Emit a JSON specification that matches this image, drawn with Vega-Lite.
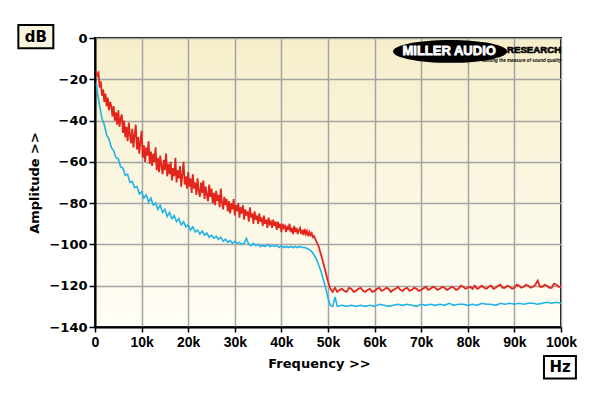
{
  "$schema": "https://vega.github.io/schema/vega-lite/v6.json",
  "width": 466,
  "height": 289,
  "autosize": {"type": "none"},
  "padding": {"left": 95, "top": 38, "right": 39, "bottom": 69},
  "background": "#ffffff",
  "config": {
    "view": {
      "stroke": "#000000",
      "strokeWidth": 2,
      "fill": {"gradient": "linear", "x1": 0, "y1": 0, "x2": 0, "y2": 1,
        "stops": [{"offset": 0, "color": "#f6eecb"}, {"offset": 1, "color": "#fffef6"}]}
    },
    "axis": {
      "gridColor": "#a4a4a4",
      "gridWidth": 1.5,
      "domainColor": "#000000",
      "domainWidth": 2,
      "tickColor": "#000000",
      "tickWidth": 1.5,
      "labelColor": "#000000",
      "titleColor": "#000000",
      "labelFontWeight": "bold",
      "titleFont": "DejaVu Sans",
      "titleFontSize": 13,
      "titleFontWeight": "bold"
    },
    "axisX": {
      "labelFont": "Liberation Sans",
      "labelFontSize": 14,
      "tickSize": 5,
      "labelPadding": 3,
      "labelFlush": false,
      "titlePadding": 8,
      "titleX": 224
    },
    "axisY": {
      "labelFont": "DejaVu Sans",
      "labelFontSize": 13,
      "tickSize": 6,
      "labelPadding": 2,
      "titlePadding": 7
    }
  },
  "datasets": {
    "red": [
      {"f": 250, "v": -16}, {"f": 500, "v": -18}, {"f": 750, "v": -17}, {"f": 1000, "v": -24},
      {"f": 1250, "v": -21}, {"f": 1500, "v": -28}, {"f": 1750, "v": -25}, {"f": 2000, "v": -31},
      {"f": 2250, "v": -27}, {"f": 2500, "v": -33}, {"f": 2750, "v": -29}, {"f": 3000, "v": -35},
      {"f": 3250, "v": -31}, {"f": 3500, "v": -33}, {"f": 3750, "v": -38}, {"f": 4000, "v": -33},
      {"f": 4250, "v": -40}, {"f": 4500, "v": -36}, {"f": 4750, "v": -42}, {"f": 5000, "v": -35},
      {"f": 5250, "v": -43}, {"f": 5500, "v": -39}, {"f": 5750, "v": -37}, {"f": 6000, "v": -46},
      {"f": 6250, "v": -40}, {"f": 6500, "v": -48}, {"f": 6750, "v": -43}, {"f": 7000, "v": -50},
      {"f": 7250, "v": -41}, {"f": 7500, "v": -47}, {"f": 7750, "v": -51}, {"f": 8000, "v": -44},
      {"f": 8250, "v": -53}, {"f": 8500, "v": -47}, {"f": 8750, "v": -42}, {"f": 9000, "v": -54},
      {"f": 9250, "v": -48}, {"f": 9500, "v": -56}, {"f": 9750, "v": -50}, {"f": 10000, "v": -45},
      {"f": 10250, "v": -58}, {"f": 10500, "v": -52}, {"f": 10750, "v": -60}, {"f": 11000, "v": -53},
      {"f": 11250, "v": -57}, {"f": 11500, "v": -50}, {"f": 11750, "v": -61}, {"f": 12000, "v": -55},
      {"f": 12250, "v": -62}, {"f": 12500, "v": -56}, {"f": 12750, "v": -60}, {"f": 13000, "v": -53},
      {"f": 13250, "v": -64}, {"f": 13500, "v": -58}, {"f": 13750, "v": -65}, {"f": 14000, "v": -57},
      {"f": 14250, "v": -62}, {"f": 14500, "v": -66}, {"f": 14750, "v": -59}, {"f": 15000, "v": -64},
      {"f": 15250, "v": -56}, {"f": 15500, "v": -67}, {"f": 15750, "v": -61}, {"f": 16000, "v": -66},
      {"f": 16250, "v": -60}, {"f": 16500, "v": -69}, {"f": 16750, "v": -63}, {"f": 17000, "v": -67},
      {"f": 17250, "v": -58}, {"f": 17500, "v": -70}, {"f": 17750, "v": -64}, {"f": 18000, "v": -68},
      {"f": 18250, "v": -62}, {"f": 18500, "v": -72}, {"f": 18750, "v": -66}, {"f": 19000, "v": -60},
      {"f": 19250, "v": -71}, {"f": 19500, "v": -67}, {"f": 19750, "v": -73}, {"f": 20000, "v": -65},
      {"f": 20250, "v": -72}, {"f": 20500, "v": -68}, {"f": 20750, "v": -75}, {"f": 21000, "v": -66},
      {"f": 21250, "v": -73}, {"f": 21500, "v": -70}, {"f": 21750, "v": -76}, {"f": 22000, "v": -68},
      {"f": 22250, "v": -74}, {"f": 22500, "v": -77}, {"f": 22750, "v": -70}, {"f": 23000, "v": -75},
      {"f": 23250, "v": -69}, {"f": 23500, "v": -78}, {"f": 23750, "v": -72}, {"f": 24000, "v": -76},
      {"f": 24250, "v": -79}, {"f": 24500, "v": -71}, {"f": 24750, "v": -77}, {"f": 25000, "v": -73},
      {"f": 25250, "v": -80}, {"f": 25500, "v": -75}, {"f": 25750, "v": -81}, {"f": 26000, "v": -74},
      {"f": 26250, "v": -79}, {"f": 26500, "v": -76}, {"f": 26750, "v": -82}, {"f": 27000, "v": -73},
      {"f": 27250, "v": -80}, {"f": 27500, "v": -83}, {"f": 27750, "v": -77}, {"f": 28000, "v": -81},
      {"f": 28250, "v": -78}, {"f": 28500, "v": -84}, {"f": 28750, "v": -79}, {"f": 29000, "v": -85},
      {"f": 29250, "v": -80}, {"f": 29500, "v": -83}, {"f": 29750, "v": -78}, {"f": 30000, "v": -86},
      {"f": 30250, "v": -81}, {"f": 30500, "v": -84}, {"f": 30750, "v": -80}, {"f": 31000, "v": -87},
      {"f": 31250, "v": -82}, {"f": 31500, "v": -85}, {"f": 31750, "v": -81}, {"f": 32000, "v": -88},
      {"f": 32250, "v": -83}, {"f": 32500, "v": -86}, {"f": 32750, "v": -84}, {"f": 33000, "v": -89},
      {"f": 33250, "v": -82}, {"f": 33500, "v": -87}, {"f": 33750, "v": -85}, {"f": 34000, "v": -90},
      {"f": 34250, "v": -84}, {"f": 34500, "v": -88}, {"f": 34750, "v": -86}, {"f": 35000, "v": -90},
      {"f": 35250, "v": -85}, {"f": 35500, "v": -89}, {"f": 35750, "v": -87}, {"f": 36000, "v": -91},
      {"f": 36250, "v": -86}, {"f": 36500, "v": -90}, {"f": 36750, "v": -88}, {"f": 37000, "v": -92},
      {"f": 37250, "v": -87}, {"f": 37500, "v": -90}, {"f": 37750, "v": -89}, {"f": 38000, "v": -92},
      {"f": 38250, "v": -88}, {"f": 38500, "v": -91}, {"f": 38750, "v": -89}, {"f": 39000, "v": -93},
      {"f": 39250, "v": -89}, {"f": 39500, "v": -92}, {"f": 39750, "v": -90}, {"f": 40000, "v": -94},
      {"f": 40250, "v": -90}, {"f": 40500, "v": -92}, {"f": 40750, "v": -91}, {"f": 41000, "v": -94},
      {"f": 41250, "v": -91}, {"f": 41500, "v": -93}, {"f": 41750, "v": -90}, {"f": 42000, "v": -94},
      {"f": 42250, "v": -92}, {"f": 42500, "v": -95}, {"f": 42750, "v": -91}, {"f": 43000, "v": -94},
      {"f": 43250, "v": -92}, {"f": 43500, "v": -95}, {"f": 43750, "v": -93}, {"f": 44000, "v": -92},
      {"f": 44250, "v": -95}, {"f": 44500, "v": -93}, {"f": 44750, "v": -95.5}, {"f": 45000, "v": -92.5},
      {"f": 45250, "v": -95}, {"f": 45500, "v": -93.5}, {"f": 45750, "v": -96}, {"f": 46000, "v": -94},
      {"f": 46250, "v": -95.5}, {"f": 46500, "v": -94.5}, {"f": 46750, "v": -96.5}, {"f": 47000, "v": -96},
      {"f": 47500, "v": -98.5}, {"f": 48000, "v": -101}, {"f": 48500, "v": -105}, {"f": 49000, "v": -109},
      {"f": 49500, "v": -113.5}, {"f": 50000, "v": -118}, {"f": 50500, "v": -121.5}, {"f": 51000, "v": -123},
      {"f": 51500, "v": -121}, {"f": 52000, "v": -123}, {"f": 52500, "v": -122}, {"f": 53000, "v": -121.5},
      {"f": 53500, "v": -122.5}, {"f": 54000, "v": -123}, {"f": 54500, "v": -121}, {"f": 55000, "v": -121.5},
      {"f": 55500, "v": -123}, {"f": 56000, "v": -122.5}, {"f": 56500, "v": -121.5}, {"f": 57000, "v": -121},
      {"f": 57500, "v": -122.5}, {"f": 58000, "v": -123}, {"f": 58500, "v": -122}, {"f": 59000, "v": -121.5},
      {"f": 59500, "v": -123}, {"f": 60000, "v": -122.5}, {"f": 60500, "v": -121.5}, {"f": 61000, "v": -121},
      {"f": 61500, "v": -122.5}, {"f": 62000, "v": -122}, {"f": 62500, "v": -121}, {"f": 63000, "v": -121.5},
      {"f": 63500, "v": -123}, {"f": 64000, "v": -122}, {"f": 64500, "v": -121.5}, {"f": 65000, "v": -120.5},
      {"f": 65500, "v": -122}, {"f": 66000, "v": -122.5}, {"f": 66500, "v": -121.5}, {"f": 67000, "v": -121},
      {"f": 67500, "v": -122.5}, {"f": 68000, "v": -122}, {"f": 68500, "v": -121}, {"f": 69000, "v": -121.5},
      {"f": 69500, "v": -122.5}, {"f": 70000, "v": -122}, {"f": 71000, "v": -120.5}, {"f": 71500, "v": -122},
      {"f": 72000, "v": -121.5}, {"f": 72500, "v": -120.5}, {"f": 73000, "v": -121}, {"f": 73500, "v": -122},
      {"f": 74000, "v": -121.5}, {"f": 74500, "v": -120.5}, {"f": 75000, "v": -121}, {"f": 75500, "v": -122},
      {"f": 76000, "v": -121.5}, {"f": 76500, "v": -120.5}, {"f": 77000, "v": -121}, {"f": 77500, "v": -122},
      {"f": 78000, "v": -121.5}, {"f": 78500, "v": -120}, {"f": 79000, "v": -120.5}, {"f": 79500, "v": -121.5},
      {"f": 80000, "v": -121}, {"f": 80500, "v": -120.5}, {"f": 81000, "v": -121.5}, {"f": 81500, "v": -120},
      {"f": 82000, "v": -121.5}, {"f": 82500, "v": -121}, {"f": 83000, "v": -120}, {"f": 83500, "v": -121},
      {"f": 84000, "v": -121.5}, {"f": 84500, "v": -120.5}, {"f": 85000, "v": -120}, {"f": 85500, "v": -121.5},
      {"f": 86000, "v": -121}, {"f": 86500, "v": -120}, {"f": 87000, "v": -119.5}, {"f": 87500, "v": -121},
      {"f": 88000, "v": -121}, {"f": 88500, "v": -120}, {"f": 89000, "v": -120.5}, {"f": 89500, "v": -121.5},
      {"f": 90000, "v": -121}, {"f": 90500, "v": -119.5}, {"f": 91000, "v": -120}, {"f": 91500, "v": -121},
      {"f": 92000, "v": -120.5}, {"f": 92500, "v": -119.5}, {"f": 93000, "v": -120}, {"f": 93500, "v": -121},
      {"f": 94000, "v": -120.5}, {"f": 94500, "v": -119.5}, {"f": 95000, "v": -117.5}, {"f": 95500, "v": -120.5},
      {"f": 96000, "v": -120.5}, {"f": 96500, "v": -119.5}, {"f": 97000, "v": -120}, {"f": 97500, "v": -121},
      {"f": 98000, "v": -121}, {"f": 98500, "v": -119}, {"f": 99000, "v": -119.5}, {"f": 99500, "v": -120.5},
      {"f": 100000, "v": -120.5}
    ],
    "blue": [
      {"f": 300, "v": -22}, {"f": 500, "v": -26}, {"f": 1000, "v": -33}, {"f": 1500, "v": -39},
      {"f": 2000, "v": -42}, {"f": 2500, "v": -47}, {"f": 3000, "v": -49}, {"f": 3500, "v": -53},
      {"f": 4000, "v": -54.5}, {"f": 4500, "v": -58}, {"f": 5000, "v": -58.5}, {"f": 5500, "v": -62.5},
      {"f": 6000, "v": -63}, {"f": 6500, "v": -66.5}, {"f": 7000, "v": -66}, {"f": 7500, "v": -70},
      {"f": 8000, "v": -69.5}, {"f": 8500, "v": -72.5}, {"f": 9000, "v": -72}, {"f": 9500, "v": -75.5},
      {"f": 10000, "v": -74.5}, {"f": 10500, "v": -77.5}, {"f": 11000, "v": -76}, {"f": 11500, "v": -79.5},
      {"f": 12000, "v": -77.5}, {"f": 12500, "v": -81}, {"f": 13000, "v": -80}, {"f": 13500, "v": -83},
      {"f": 14000, "v": -81}, {"f": 14500, "v": -84.5}, {"f": 15000, "v": -83}, {"f": 15500, "v": -86.5},
      {"f": 16000, "v": -84.5}, {"f": 16500, "v": -87.5}, {"f": 17000, "v": -86}, {"f": 17500, "v": -89},
      {"f": 18000, "v": -87.5}, {"f": 18500, "v": -90.5}, {"f": 19000, "v": -89}, {"f": 19500, "v": -91.5},
      {"f": 20000, "v": -90.5}, {"f": 20500, "v": -93}, {"f": 21000, "v": -91.5}, {"f": 21500, "v": -94},
      {"f": 22000, "v": -93}, {"f": 22500, "v": -95}, {"f": 23000, "v": -93.5}, {"f": 23500, "v": -95.5},
      {"f": 24000, "v": -94.5}, {"f": 24500, "v": -96.5}, {"f": 25000, "v": -95.5}, {"f": 25500, "v": -97},
      {"f": 26000, "v": -96}, {"f": 26500, "v": -97.5}, {"f": 27000, "v": -96.5}, {"f": 27500, "v": -98.5},
      {"f": 28000, "v": -97.5}, {"f": 28500, "v": -99}, {"f": 29000, "v": -98}, {"f": 29500, "v": -99.5},
      {"f": 30000, "v": -98.5}, {"f": 30500, "v": -99.5}, {"f": 31000, "v": -99}, {"f": 31500, "v": -100},
      {"f": 32000, "v": -99.5}, {"f": 32500, "v": -97}, {"f": 33000, "v": -100}, {"f": 33500, "v": -100.5},
      {"f": 34000, "v": -99.5}, {"f": 34500, "v": -100.5}, {"f": 35000, "v": -100}, {"f": 35500, "v": -101},
      {"f": 36000, "v": -100.5}, {"f": 36500, "v": -101}, {"f": 37000, "v": -100}, {"f": 37500, "v": -101},
      {"f": 38000, "v": -100.5}, {"f": 38500, "v": -101}, {"f": 39000, "v": -100.5}, {"f": 39500, "v": -101.5},
      {"f": 40000, "v": -100.5}, {"f": 40500, "v": -101.5}, {"f": 41000, "v": -101}, {"f": 41500, "v": -101.5},
      {"f": 42000, "v": -101}, {"f": 42500, "v": -101.5}, {"f": 43000, "v": -101}, {"f": 43500, "v": -101.5},
      {"f": 44000, "v": -101}, {"f": 44500, "v": -101.5}, {"f": 45000, "v": -101.5}, {"f": 45500, "v": -102},
      {"f": 46000, "v": -102.5}, {"f": 46500, "v": -103.5}, {"f": 47000, "v": -105}, {"f": 47500, "v": -107},
      {"f": 48000, "v": -110}, {"f": 48500, "v": -113}, {"f": 49000, "v": -117}, {"f": 49500, "v": -121},
      {"f": 50000, "v": -126}, {"f": 50500, "v": -129.5}, {"f": 51000, "v": -130}, {"f": 51500, "v": -125.5},
      {"f": 52000, "v": -130}, {"f": 53000, "v": -129.5}, {"f": 54000, "v": -130}, {"f": 55000, "v": -129.5},
      {"f": 56000, "v": -130}, {"f": 57000, "v": -129.5}, {"f": 58000, "v": -130}, {"f": 59000, "v": -129.5},
      {"f": 60000, "v": -130}, {"f": 61000, "v": -129}, {"f": 62000, "v": -129.5}, {"f": 63000, "v": -130},
      {"f": 64000, "v": -129.5}, {"f": 65000, "v": -129}, {"f": 66000, "v": -129.5}, {"f": 67000, "v": -129},
      {"f": 68000, "v": -129.5}, {"f": 69000, "v": -130}, {"f": 70000, "v": -129}, {"f": 71000, "v": -129.5},
      {"f": 72000, "v": -129}, {"f": 73000, "v": -129.5}, {"f": 74000, "v": -129}, {"f": 75000, "v": -129.5},
      {"f": 76000, "v": -128.5}, {"f": 77000, "v": -129.5}, {"f": 78000, "v": -129}, {"f": 79000, "v": -129},
      {"f": 80000, "v": -129.5}, {"f": 81000, "v": -129}, {"f": 82000, "v": -129.5}, {"f": 83000, "v": -128.5},
      {"f": 84000, "v": -129}, {"f": 85000, "v": -129}, {"f": 86000, "v": -129.5}, {"f": 87000, "v": -128.5},
      {"f": 88000, "v": -129}, {"f": 89000, "v": -128.5}, {"f": 90000, "v": -129}, {"f": 91000, "v": -128.5},
      {"f": 92000, "v": -129}, {"f": 93000, "v": -128.5}, {"f": 94000, "v": -128.5}, {"f": 95000, "v": -129},
      {"f": 96000, "v": -128.5}, {"f": 97000, "v": -128}, {"f": 98000, "v": -128.5}, {"f": 99000, "v": -128},
      {"f": 100000, "v": -128.5}
    ]
  },
  "layer": [
    {
      "data": {"name": "blue"},
      "mark": {"type": "line", "color": "#1fb3e6", "strokeWidth": 1.6},
      "encoding": {
        "x": {"field": "f", "type": "quantitative",
          "scale": {"domain": [0, 100000], "nice": false, "zero": false},
          "axis": {"title": "Frequency >>", "values": [0, 10000, 20000, 30000, 40000, 50000, 60000, 70000, 80000, 90000, 100000],
            "labelExpr": "datum.value == 0 ? '0' : (datum.value / 1000) + 'k'"}},
        "y": {"field": "v", "type": "quantitative",
          "scale": {"domain": [-140, 0], "nice": false, "zero": false},
          "axis": {"title": "Amplitude >>", "values": [-140, -120, -100, -80, -60, -40, -20, 0]}}
      }
    },
    {
      "data": {"name": "red"},
      "mark": {"type": "line", "color": "#e3261c", "strokeWidth": 1.8},
      "encoding": {
        "x": {"field": "f", "type": "quantitative"},
        "y": {"field": "v", "type": "quantitative"}
      }
    },
    {
      "data": {"values": [{}]},
      "mark": {"type": "rect", "fill": "#f9f5df", "stroke": "#000000", "strokeWidth": 2},
      "encoding": {
        "x": {"datum": -16450}, "x2": {"datum": -8940},
        "y": {"datum": 6.3}, "y2": {"datum": -5.0}
      }
    },
    {
      "data": {"values": [{}]},
      "mark": {"type": "text", "text": "dB", "font": "DejaVu Sans", "fontSize": 15, "fontWeight": "bold", "color": "#000000", "align": "center", "baseline": "middle"},
      "encoding": {"x": {"datum": -12700}, "y": {"datum": 0.6}}
    },
    {
      "data": {"values": [{}]},
      "mark": {"type": "rect", "fill": "#ffffff", "stroke": "#000000", "strokeWidth": 2},
      "encoding": {
        "x": {"datum": 96350}, "x2": {"datum": 103200},
        "y": {"datum": -154.1}, "y2": {"datum": -164.9}
      }
    },
    {
      "data": {"values": [{}]},
      "mark": {"type": "text", "text": "Hz", "font": "DejaVu Sans", "fontSize": 15, "fontWeight": "bold", "color": "#000000", "align": "center", "baseline": "middle"},
      "encoding": {"x": {"datum": 99800}, "y": {"datum": -159.4}}
    },
    {
      "data": {"values": [{}]},
      "mark": {"type": "point", "shape": "M-1,0A1,0.2,0,1,1,1,0A1,0.2,0,1,1,-1,0Z", "size": 12996, "filled": true, "color": "#000000", "opacity": 1},
      "encoding": {"x": {"datum": 76200}, "y": {"datum": -6.5}}
    },
    {
      "data": {"values": [{}]},
      "mark": {"type": "text", "text": "MILLER AUDIO", "font": "Liberation Sans", "fontSize": 13, "fontWeight": "bold", "color": "#ffffff", "stroke": "#ffffff", "strokeWidth": 0.8, "align": "center", "baseline": "middle"},
      "encoding": {"x": {"datum": 76000}, "y": {"datum": -6.2}}
    },
    {
      "data": {"values": [{}]},
      "mark": {"type": "text", "text": "RESEARCH", "font": "Liberation Sans", "fontSize": 9.7, "fontWeight": "bold", "color": "#000000", "stroke": "#000000", "strokeWidth": 0.6, "align": "left", "baseline": "middle"},
      "encoding": {"x": {"datum": 88400}, "y": {"datum": -5.8}}
    },
    {
      "data": {"values": [{}]},
      "mark": {"type": "text", "text": "Getting the measure of sound quality", "font": "Liberation Sans", "fontSize": 4.5, "fontWeight": "bold", "fontStyle": "italic", "color": "#000000", "align": "center", "baseline": "middle"},
      "encoding": {"x": {"datum": 91600}, "y": {"datum": -11.3}}
    }
  ]
}
